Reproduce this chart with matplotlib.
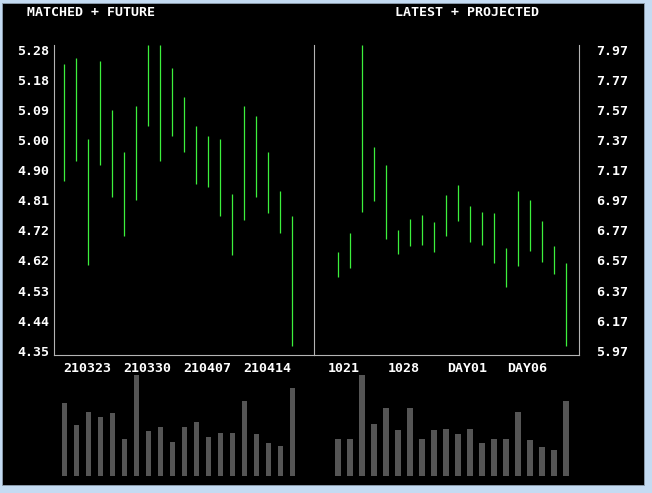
import numpy as np
import matplotlib
matplotlib.use('Agg')
import matplotlib.pyplot as plt
from matplotlib.patches import Rectangle
from matplotlib.transforms import offset_copy

# price ranges (high / low) per bar
left_high = [5.22, 5.24, 4.99, 5.23, 5.08, 4.95, 5.09, 5.28, 5.28, 5.21,
             5.12, 5.03, 5.00, 4.99, 4.82, 5.09, 5.06, 4.95, 4.83, 4.75]
left_low = [4.86, 4.92, 4.60, 4.91, 4.81, 4.69, 4.80, 5.03, 4.92, 5.00,
            4.95, 4.85, 4.84, 4.75, 4.63, 4.74, 4.81, 4.76, 4.70, 4.35]
right_high = [6.59, 6.72, 7.97, 7.29, 7.17, 6.74, 6.81, 6.84, 6.79, 6.97,
              7.04, 6.90, 6.86, 6.85, 6.62, 7.00, 6.94, 6.80, 6.63, 6.52]
right_low = [6.43, 6.49, 6.86, 6.93, 6.68, 6.58, 6.63, 6.64, 6.59, 6.70,
             6.80, 6.66, 6.64, 6.52, 6.36, 6.50, 6.60, 6.53, 6.45, 5.97]

# volumes
left_vol = [218, 152, 191, 176, 188, 110, 302, 134, 146, 101,
            146, 161, 116, 128, 128, 224, 125, 98, 89, 263]
right_vol = [110, 110, 302, 155, 203, 137, 203, 110, 137, 140,
             125, 140, 98, 110, 110, 191, 107, 86, 77, 224]

left_yticks = ['4.35', '4.44', '4.53', '4.62', '4.72', '4.81',
               '4.90', '5.00', '5.09', '5.18', '5.28']
right_yticks = ['5.97', '6.17', '6.37', '6.57', '6.77', '6.97',
                '7.17', '7.37', '7.57', '7.77', '7.97']
left_dates = ['210323', '210330', '210407', '210414']
right_dates = ['1021', '1028', 'DAY01', 'DAY06']
date_idx = [0, 5, 10, 15]

W, H = 652, 493
GREEN = '#3cf03c'
GRAY = '#555555'
LINE = '#b4b4b4'
FONT = dict(family='DejaVu Sans Mono', weight='bold', size=9.5, color='white')

fig = plt.figure(figsize=(W / 100, H / 100), dpi=100, facecolor='#c4dbf2')
fig.patches.append(Rectangle((2 / W, 1 - 485 / H), 642 / W, 482 / H,
                             transform=fig.transFigure, facecolor='black',
                             edgecolor='#8a9aaa', lw=0.7, zorder=-10))


def px_axes(x0, y0, x1, y1):
    # rectangle given in pixel coords (top-left origin)
    return fig.add_axes([x0 / W, 1 - y1 / H, (x1 - x0) / W, (y1 - y0) / H])


def price_panel(ax, hi, lo, x_left_px, width_px):
    n = len(hi)
    x = np.arange(n)
    ax.set_facecolor('none')
    ax.vlines(x, lo, hi, color=GREEN, lw=0.9)
    top, bot = max(hi), min(lo)
    ax.set_ylim(bot - 9.3 / 300.7 * (top - bot), top)
    ax.set_xlim(-x_left_px / 12, -x_left_px / 12 + width_px / 12)
    ax.set_xticks([])
    ax.set_yticks([])
    for s in ax.spines.values():
        s.set_color(LINE)
        s.set_linewidth(0.8)
    ax.spines['top'].set_visible(False)
    return top, bot


def vol_panel(ax, vol, xlim):
    ax.set_facecolor('none')
    ax.bar(np.arange(len(vol)), vol, width=0.42, color=GRAY)
    ax.set_xlim(xlim)
    ax.set_ylim(0, max(vol))
    ax.axis('off')


# left panel
axl = px_axes(54, 45, 314, 355)
top, bot = price_panel(axl, left_high, left_low, 10.3, 260)
for v, t in zip(np.linspace(bot, top, len(left_yticks)), left_yticks):
    axl.text(-5 / 260, v, t, ha='right', va='center',
             transform=offset_copy(axl.get_yaxis_transform(), fig=fig, y=-6.5, units='dots'),
             **FONT)
for i, t in zip(date_idx, left_dates):
    axl.text(i - 1.5 / 12, 0, t, ha='left', va='center',
             transform=offset_copy(axl.get_xaxis_transform(), fig=fig, y=-14, units='dots'),
             **FONT)

# right panel
axr = px_axes(314, 45, 579, 355)
top, bot = price_panel(axr, right_high, right_low, 24, 265)
axr.spines['left'].set_visible(False)
for v, t in zip(np.linspace(bot, top, len(right_yticks)), right_yticks):
    axr.text(1 + 17 / 265, v, t, ha='left', va='center',
             transform=offset_copy(axr.get_yaxis_transform(), fig=fig, y=-6.5, units='dots'),
             **FONT)
for i, t in zip(date_idx, right_dates):
    axr.text(i - 10.5 / 12, 0, t, ha='left', va='center',
             transform=offset_copy(axr.get_xaxis_transform(), fig=fig, y=-14, units='dots'),
             **FONT)

# volume panels
vol_panel(px_axes(54, 375, 314, 475.7), left_vol, axl.get_xlim())
vol_panel(px_axes(314, 375, 579, 475.7), right_vol, axr.get_xlim())

fig.text(27 / W, 1 - 12 / H, 'MATCHED + FUTURE', ha='left', va='center', **FONT)
fig.text(395 / W, 1 - 12 / H, 'LATEST + PROJECTED', ha='left', va='center', **FONT)

fig.savefig('out.png', dpi=100, facecolor=fig.get_facecolor())
